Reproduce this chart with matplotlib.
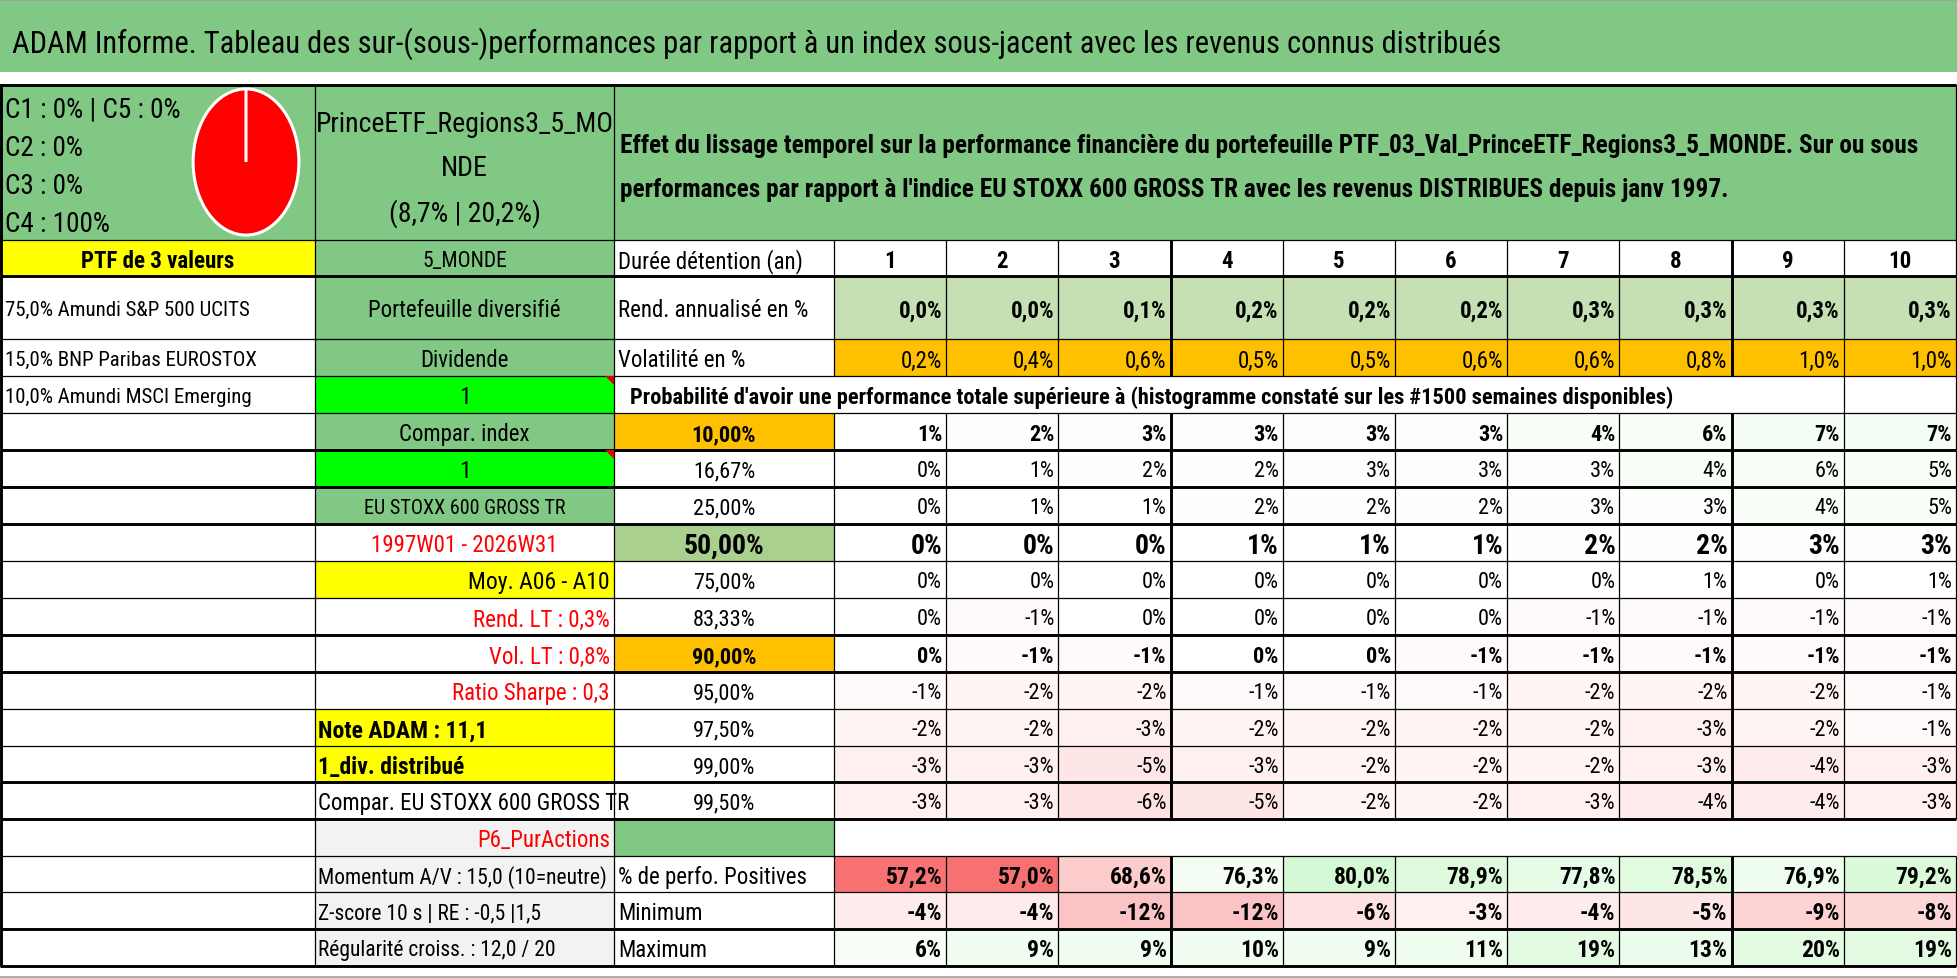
import matplotlib
matplotlib.use("Agg")
import matplotlib.pyplot as plt
from matplotlib.patches import Rectangle, Polygon
from matplotlib import font_manager

# ---------------- data ----------------
title = ("ADAM Informe. Tableau des sur-(sous-)performances par rapport à un index "
         "sous-jacent avec les revenus connus distribués")
pie_labels = ["C1", "C2", "C3", "C4", "C5"]
pie_values = [0, 0, 0, 100, 0]
fund_name = "PrinceETF_Regions3_5_MO\nNDE"
fund_perf = 8.7
fund_vol = 20.2
desc_lines = ["Effet du lissage temporel sur la performance financière du portefeuille "
              "PTF_03_Val_PrinceETF_Regions3_5_MONDE. Sur ou sous",
              "performances par rapport à l'indice EU STOXX 600 GROSS TR avec les revenus "
              "DISTRIBUES depuis janv 1997."]
holdings = ["75,0% Amundi S&P 500 UCITS", "15,0% BNP Paribas EUROSTOX", "10,0% Amundi MSCI Emerging"]
durations = [1, 2, 3, 4, 5, 6, 7, 8, 9, 10]
rend_annualise = [0.0, 0.0, 0.1, 0.2, 0.2, 0.2, 0.3, 0.3, 0.3, 0.3]
volatilite = [0.2, 0.4, 0.6, 0.5, 0.5, 0.6, 0.6, 0.8, 1.0, 1.0]
quantiles = ["10,00%", "16,67%", "25,00%", "50,00%", "75,00%", "83,33%",
             "90,00%", "95,00%", "97,50%", "99,00%", "99,50%"]
q10 = [1, 2, 3, 3, 3, 3, 4, 6, 7, 7]
q1667 = [0, 1, 2, 2, 3, 3, 3, 4, 6, 5]
q25 = [0, 1, 1, 2, 2, 2, 3, 3, 4, 5]
q50 = [0, 0, 0, 1, 1, 1, 2, 2, 3, 3]
q75 = [0, 0, 0, 0, 0, 0, 0, 1, 0, 1]
q8333 = [0, -1, 0, 0, 0, 0, -1, -1, -1, -1]
q90 = [0, -1, -1, 0, 0, -1, -1, -1, -1, -1]
q95 = [-1, -2, -2, -1, -1, -1, -2, -2, -2, -1]
q975 = [-2, -2, -3, -2, -2, -2, -2, -3, -2, -1]
q99 = [-3, -3, -5, -3, -2, -2, -2, -3, -4, -3]
q995 = [-3, -3, -6, -5, -2, -2, -3, -4, -4, -3]
pct_positives = [57.2, 57.0, 68.6, 76.3, 80.0, 78.9, 77.8, 78.5, 76.9, 79.2]
minimum = [-4, -4, -12, -12, -6, -3, -4, -5, -9, -8]
maximum = [6, 9, 9, 10, 9, 11, 19, 13, 20, 19]
side_labels = ["5_MONDE", "Portefeuille diversifié", "Dividende", "1", "Compar. index", "1",
               "EU STOXX 600 GROSS TR", "1997W01 - 2026W31", "Moy. A06 - A10",
               "Rend. LT : 0,3%", "Vol. LT : 0,8%", "Ratio Sharpe : 0,3",
               "Note ADAM : 11,1", "1_div. distribué", "Compar. EU STOXX 600 GROSS TR",
               "P6_PurActions", "Momentum A/V : 15,0 (10=neutre)",
               "Z-score 10 s | RE : -0,5 |1,5", "Régularité croiss. : 12,0 / 20"]
prob_header = ("Probabilité d'avoir une performance totale supérieure à (histogramme constaté "
               "sur les #1500 semaines disponibles)")

prob_rows = [q10, q1667, q25, q50, q75, q8333, q90, q95, q975, q99, q995]

# ---------------- fonts ----------------
names = {f.name for f in font_manager.fontManager.ttflist}
FONT, SC = None, 1.0
for cand in ["Liberation Sans Narrow", "Arial Narrow", "Roboto Condensed", "Open Sans Condensed"]:
    if cand in names:
        FONT = cand
        break
if FONT is None:
    FONT = "Liberation Sans" if "Liberation Sans" in names else "DejaVu Sans"
    SC = 0.82
plt.rcParams['font.family'] = [FONT, 'DejaVu Sans']

# ---------------- colours ----------------
GREEN = "#80C883"
LGREEN = "#C6E0B4"
MGREEN = "#A9D08E"
ORANGE = "#FFC000"
BGREEN = "#00FF00"
YELLOW = "#FFFF00"
GRAY = "#F2F2F2"
RED_T = (248, 105, 107)
GRN_T = (110, 235, 110)


def mix(c, t):
    t = max(0.0, min(1.0, t))
    return tuple((255 - t * (255 - ch)) / 255 for ch in c)


def prob_color(v):
    if v < 0:
        return mix(RED_T, abs(v) / 30)
    return mix(GRN_T, v / 100)


def pos_color(v):
    if v < 75:
        return mix(RED_T, (75 - v) / 18 * 0.95)
    return mix(GRN_T, (v - 75) / 5 * 0.3)


def min_color(v):
    return mix(RED_T, abs(v) / 30)


def max_color(v):
    return mix(GRN_T, v / 20 * 0.2)


def pct1(v):
    return f"{v:.1f}".replace(".", ",") + "%"


def pct0(v):
    return f"{v:.0f}%"


# ---------------- layout ----------------
W, H = 1958, 979
XA, XB, XC, X1 = 0, 315, 614, 834
CW = 112.2
XE = X1 + 10 * CW
colx = [X1 + i * CW for i in range(11)]
YT = 86
ys = [241, 277, 340, 377, 414, 451, 488, 525, 562, 599, 636, 673, 710, 747, 783, 820,
      857, 893, 930, 967]
thick_idx = {1, 5, 6, 7, 10, 11, 14, 15, 18, 19}

fig = plt.figure(figsize=(W / 100, H / 100), dpi=100)
ax = fig.add_axes([0, 0, 1, 1])
ax.set_xlim(0, W)
ax.set_ylim(H, 0)
ax.axis('off')


def rect(x0, y0, x1, y1, fc):
    ax.add_patch(Rectangle((x0, y0), x1 - x0, y1 - y0, facecolor=fc, edgecolor='none', zorder=1))


def txt(x, y, s, size, ha='left', weight='normal', color='black', clip=None):
    t = ax.text(x, y, s, fontsize=size * SC, ha=ha, va='center_baseline',
                fontweight=weight, color=color, zorder=5)
    if clip is not None:
        t.set_clip_path(Rectangle((clip[0], clip[1]), clip[2], clip[3], transform=ax.transData))
    return t


def rowc(r):
    return (ys[r] + ys[r + 1]) / 2


# title band
rect(0, 0, W, 73, GREEN)
ax.plot([0, W], [0.8, 0.8], color="#A0A0A0", lw=1.2, zorder=6)
txt(12, 40, title, 22)

# top block
rect(XA, YT, XB, ys[0], GREEN)
rect(XB, YT, XC, ys[0], GREEN)
rect(XC, YT, XE, ys[0], GREEN)
ctext = [f"{pie_labels[0]} : {pie_values[0]}% | {pie_labels[4]} : {pie_values[4]}%",
         f"{pie_labels[1]} : {pie_values[1]}%",
         f"{pie_labels[2]} : {pie_values[2]}%",
         f"{pie_labels[3]} : {pie_values[3]}%"]
for yy, s in zip([107, 146, 184, 222], ctext):
    txt(5, yy, s, 19.5)
bl = fund_name.split("\n") + [f"({pct1(fund_perf)} | {pct1(fund_vol)})"]
for yy, s in zip([122, 165, 210], bl):
    txt((XB + XC) / 2, yy, s, 20, ha='center')
txt(620, 143, desc_lines[0], 18.2, weight='bold')
txt(620, 188, desc_lines[1], 18.2, weight='bold')

# pie
pcx, pcy, pw, ph = 246, 163, 110, 152
pax = fig.add_axes([(pcx - pw / 2) / W, 1 - (pcy + ph / 2) / H, pw / W, ph / H])
pax.pie(pie_values, colors=["#4472C4", "#ED7D31", "#A5A5A5", "#FF0000", "#5B9BD5"],
        startangle=90, counterclock=False,
        wedgeprops=dict(edgecolor='white', linewidth=2.2))
pax.set_aspect('auto')
pax.set_xlim(-1.04, 1.04)
pax.set_ylim(-1.04, 1.04)
pax.axis('off')

# column A
rect(XA, ys[0], XB, ys[1], YELLOW)
txt((XA + XB) / 2, rowc(0), "PTF de 3 valeurs", 16.5, ha='center', weight='bold')
for i, h in enumerate(holdings):
    txt(5, rowc(i + 1), h, 15)

# column B
b_bg = [GREEN, GREEN, GREEN, BGREEN, GREEN, BGREEN, GREEN, 'white', YELLOW, 'white', 'white',
        'white', YELLOW, YELLOW, 'white', GRAY, GRAY, GRAY, GRAY]
b_align = ['center'] * 8 + ['right', 'right', 'right', 'right', 'left', 'left', 'left',
                            'right', 'left', 'left', 'left']
b_color = ['black'] * 7 + ['red', 'black', 'red', 'red', 'red', 'black', 'black', 'black',
                           'red', 'black', 'black', 'black']
b_size = [15.5, 16.5, 16.5, 17, 16.5, 17, 14.5, 16.5, 17, 16.5, 16.5, 16.5, 17, 17, 16.5,
          16.5, 15.5, 15.5, 15.5]
for r in range(19):
    rect(XB, ys[r], XC, ys[r + 1], b_bg[r])
    a = b_align[r]
    x = {'center': (XB + XC) / 2, 'right': XC - 4, 'left': XB + 3}[a]
    w = 'bold' if r in (12, 13) else 'normal'
    txt(x, rowc(r), side_labels[r], b_size[r], ha=a, color=b_color[r], weight=w,
        clip=(XB, ys[r], XC - XB, ys[r + 1] - ys[r]))
for r in (3, 5):
    ax.add_patch(Polygon([[XC - 9, ys[r]], [XC, ys[r]], [XC, ys[r] + 9]], closed=True,
                         facecolor='#E00000', edgecolor='none', zorder=4))

# column C labels and header rows
txt(XC + 4, rowc(0), "Durée détention (an)", 16.5)
txt(XC + 4, rowc(1), "Rend. annualisé en %", 16.5)
txt(XC + 4, rowc(2), "Volatilité en %", 16.5)
txt(XC + 16, rowc(3), prob_header, 16.2, weight='bold')
for i, d in enumerate(durations):
    cx = colx[i] + CW / 2
    txt(cx, rowc(0), str(d), 16.5, ha='center', weight='bold')
    rect(colx[i], ys[1], colx[i + 1], ys[2], LGREEN)
    txt(colx[i + 1] - 4, rowc(1), pct1(rend_annualise[i]), 16.5, ha='right', weight='bold')
    rect(colx[i], ys[2], colx[i + 1], ys[3], ORANGE)
    txt(colx[i + 1] - 4, rowc(2), pct1(volatilite[i]), 16.5, ha='right')

# probability table
for k, (ql, vals) in enumerate(zip(quantiles, prob_rows)):
    r = 4 + k
    big = (k == 3)
    bold = k in (0, 3, 6)
    if k in (0, 6):
        rect(XC, ys[r], X1, ys[r + 1], ORANGE)
    elif big:
        rect(XC, ys[r], X1, ys[r + 1], MGREEN)
    txt((XC + X1) / 2, rowc(r), ql, 20 if big else 16,
        ha='center', weight='bold' if bold else 'normal')
    for i, v in enumerate(vals):
        rect(colx[i], ys[r], colx[i + 1], ys[r + 1], prob_color(v))
        txt(colx[i + 1] - 4, rowc(r), pct0(v), 20 if big else 16, ha='right',
            weight='bold' if bold else 'normal')

# P6 row
rect(XC, ys[15], X1, ys[16], GREEN)

# bottom stats
txt(XC + 4, rowc(16), "% de perfo. Positives", 16.5)
txt(XC + 4, rowc(17), "Minimum", 16.5)
txt(XC + 4, rowc(18), "Maximum", 16.5)
for i in range(10):
    rect(colx[i], ys[16], colx[i + 1], ys[17], pos_color(pct_positives[i]))
    txt(colx[i + 1] - 4, rowc(16), pct1(pct_positives[i]), 17, ha='right', weight='bold')
    rect(colx[i], ys[17], colx[i + 1], ys[18], min_color(minimum[i]))
    txt(colx[i + 1] - 4, rowc(17), pct0(minimum[i]), 17, ha='right', weight='bold')
    rect(colx[i], ys[18], colx[i + 1], ys[19], max_color(maximum[i]))
    txt(colx[i + 1] - 4, rowc(18), pct0(maximum[i]), 17, ha='right', weight='bold')

# ---------------- grid lines ----------------
THIN, THICK = 0.9, 2.1
ax.plot([0, XE], [YT, YT], color='black', lw=THICK, zorder=3, solid_capstyle='butt')
for j, y in enumerate(ys):
    lw = THICK if j in thick_idx else THIN
    ax.plot([0, XE], [y, y], color='black', lw=lw, zorder=3, solid_capstyle='butt')
# verticals: top block
for x in (XA + 1, XB, XC, XE):
    ax.plot([x, x], [YT, ys[0]], color='black', lw=THIN if x != XA + 1 else THICK, zorder=3)
for r in range(19):
    y0, y1 = ys[r], ys[r + 1]
    xs = [XA + 1, XB, XC, X1]
    if r == 3:
        xs = [XA + 1, XB, XC] + colx[9:]
    elif r == 15:
        xs = [XA + 1, XB, XC, X1]
    else:
        xs = xs + colx[1:]
    for x in xs:
        lw = THICK if (x in (XA + 1, colx[3], colx[8])) else THIN
        ax.plot([x, x], [y0, y1], color='black', lw=lw, zorder=3, solid_capstyle='butt')

ax.plot([0, W], [977.5, 977.5], color="#A0A0A0", lw=1.2, zorder=3)

fig.savefig("out.png", dpi=100)
